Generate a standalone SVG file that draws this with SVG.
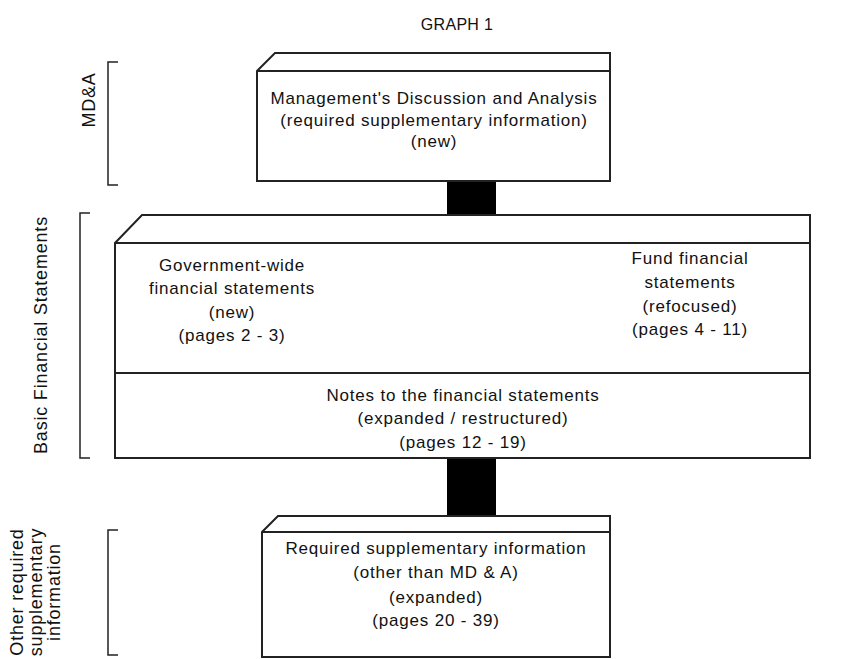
<svg xmlns="http://www.w3.org/2000/svg" width="852" height="659" viewBox="0 0 852 659">
<style>
  text { font-family: "Liberation Sans", Arial, sans-serif; font-size: 17px; letter-spacing: 0.8px; fill: #111; text-anchor: middle; }
  .title { font-size: 16px; letter-spacing: 0.3px; }
  .side { font-size: 18px; letter-spacing: 0.8px; }
  .box { fill: #fff; stroke: #222; stroke-width: 2; }
  .ln { fill: none; stroke: #222; stroke-width: 2; }
  .br { fill: none; stroke: #222; stroke-width: 1.5; }
  .conn { fill: #000; }
</style>
<rect width="852" height="659" fill="#fff"/>
<text class="title" x="457" y="30">GRAPH 1</text>

<g id="bracket-mda">
  <path class="br" d="M118,62 H108 V185 H118"/>
  <text class="side" transform="translate(95,100) rotate(-90)">MD&amp;A</text>
</g>
<g id="bracket-basic">
  <path class="br" d="M90,213 H80 V458 H90"/>
  <text class="side" transform="translate(47,335) rotate(-90)">Basic Financial Statements</text>
</g>
<g id="bracket-other">
  <path class="br" d="M118,530 H108 V655 H118"/>
  <text class="side" transform="translate(23,592) rotate(-90)">Other required</text>
  <text class="side" transform="translate(42,592) rotate(-90)">supplementary</text>
  <text class="side" transform="translate(60,592) rotate(-90)">information</text>
</g>

<g id="connectors">
  <rect class="conn" x="447" y="181" width="49" height="35"/>
  <rect class="conn" x="447" y="458" width="49" height="58"/>
</g>

<g id="mda-box">
  <path class="box" d="M257,71 L275,53 H610 V181 H257 Z"/>
  <path class="ln" d="M257,71 H610"/>
  <text x="434" y="104">Management's Discussion and Analysis</text>
  <text x="434" y="126">(required supplementary information)</text>
  <text x="434" y="147">(new)</text>
</g>

<g id="basic-box">
  <path class="box" d="M115,243 L142,215 H810 V458 H115 Z"/>
  <path class="ln" d="M115,243 H810"/>
  <path class="ln" d="M115,373 H810"/>
  <g id="gov-wide">
    <text x="232" y="271">Government-wide</text>
    <text x="232" y="294">financial statements</text>
    <text x="232" y="318">(new)</text>
    <text x="232" y="341">(pages 2 - 3)</text>
  </g>
  <g id="fund">
    <text x="690" y="264">Fund financial</text>
    <text x="690" y="288">statements</text>
    <text x="690" y="312">(refocused)</text>
    <text x="690" y="335">(pages 4 - 11)</text>
  </g>
  <g id="notes">
    <text x="463" y="401">Notes to the financial statements</text>
    <text x="463" y="424">(expanded / restructured)</text>
    <text x="463" y="448">(pages 12 - 19)</text>
  </g>
</g>

<g id="rsi-box">
  <path class="box" d="M262,532 L278,516 H610 V657 H262 Z"/>
  <path class="ln" d="M262,532 H610"/>
  <text x="436" y="554">Required supplementary information</text>
  <text x="436" y="578">(other than MD &amp; A)</text>
  <text x="436" y="603">(expanded)</text>
  <text x="436" y="626">(pages 20 - 39)</text>
</g>
</svg>
